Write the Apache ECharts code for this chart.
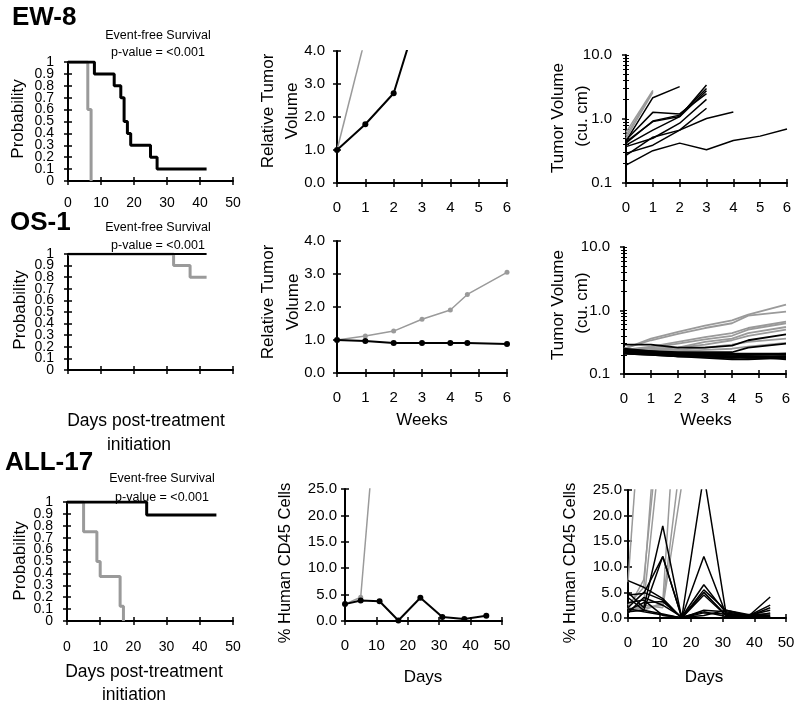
<!DOCTYPE html>
<html><head><meta charset="utf-8">
<script src="https://cdn.jsdelivr.net/npm/echarts@6/dist/echarts.min.js"></script>
<style>html,body{margin:0;padding:0;background:#fff}#c{width:800px;height:707px}</style>
</head><body><div id="c"></div>
<script>
// ================= DATA =================
// Kaplan-Meier (days, survival probability)
const ew8KmCtrlT = [0, 6, 7];
const ew8KmCtrlS = [1, 0.6, 0];
const ew8KmTrtT = [0, 8, 14, 16, 17, 18, 19, 25, 27, 42];
const ew8KmTrtS = [1, 0.9, 0.8, 0.7, 0.5, 0.4, 0.3, 0.2, 0.1, 0.1];
const os1KmCtrlT = [0, 32, 37, 42];
const os1KmCtrlS = [1, 0.9, 0.8, 0.8];
const os1KmTrtT = [0, 42];
const os1KmTrtS = [1, 1];
const all17KmCtrlT = [0, 5, 9, 10, 16, 17];
const all17KmCtrlS = [1, 0.75, 0.5, 0.375, 0.125, 0];
const all17KmTrtT = [0, 24, 45];
const all17KmTrtS = [1, 0.89, 0.89];

// EW-8 (weeks)
const ew8Weeks = [0, 1, 2, 3, 4, 5, 6];
const ew8RtvCtrl = [1, 4.4];
const ew8RtvTrt = [1, 1.78, 2.72, 5.5];
const ew8TvCtrl = [[0.62, 2.8], [0.55, 2.7], [0.5, 2.6]];
const ew8TvTrt = [
  [0.45, 2.15, 3.2],
  [0.47, 1.27, 1.2, 2.5],
  [0.44, 0.91, 1.09, 3.4],
  [0.42, 0.93, 1.15, 3.0],
  [0.39, 0.67, 1.09, 2.77],
  [0.37, 0.5, 0.86, 2.03],
  [0.29, 0.39, 0.67, 1.47],
  [0.27, 0.52, 0.67, 1.02, 1.29],
  [0.19, 0.32, 0.42, 0.33, 0.46, 0.54, 0.7]
];

// OS-1 (weeks)
const os1Weeks = [0, 1, 2, 3, 4, 4.6, 6];
const os1RtvCtrl = [1, 1.12, 1.27, 1.63, 1.91, 2.38, 3.05];
const os1RtvTrt = [1, 0.97, 0.91, 0.91, 0.91, 0.91, 0.88];
const os1TvCtrl = [
  [0.25, 0.36, 0.46, 0.58, 0.70, 0.86, 1.24],
  [0.25, 0.34, 0.43, 0.53, 0.63, 0.83, 0.96],
  [0.24, 0.27, 0.32, 0.38, 0.44, 0.53, 0.67],
  [0.24, 0.26, 0.30, 0.35, 0.40, 0.50, 0.63],
  [0.23, 0.25, 0.26, 0.32, 0.36, 0.44, 0.55],
  [0.24, 0.25, 0.26, 0.29, 0.34, 0.40, 0.50],
  [0.23, 0.24, 0.24, 0.26, 0.29, 0.32, 0.36],
  [0.22, 0.23, 0.23, 0.24, 0.25, 0.27, 0.31]
];
const os1TvTrt = [
  [0.29, 0.29, 0.26, 0.26, 0.28, 0.34, 0.42],
  [0.24, 0.23, 0.22, 0.22, 0.22, 0.26, 0.30],
  [0.25, 0.23, 0.21, 0.21, 0.21, 0.21, 0.21],
  [0.24, 0.22, 0.20, 0.20, 0.20, 0.20, 0.20],
  [0.23, 0.22, 0.20, 0.19, 0.19, 0.20, 0.21],
  [0.22, 0.21, 0.19, 0.19, 0.18, 0.19, 0.19],
  [0.22, 0.21, 0.20, 0.19, 0.19, 0.18, 0.18],
  [0.21, 0.20, 0.19, 0.18, 0.17, 0.17, 0.18],
  [0.23, 0.21, 0.20, 0.20, 0.19, 0.19, 0.17],
  [0.21, 0.20, 0.19, 0.19, 0.18, 0.18, 0.19]
];

// ALL-17 (days, % human CD45)
const all17Days = [0, 5, 11, 17, 24, 31, 38, 45];
const all17MeanCtrl = [3.2, 4.5, 47];
const all17MeanTrt = [3.2, 3.9, 3.75, 0.1, 4.4, 0.75, 0.4, 1.0];
const all17IndCtrl = [
  [7, 50],
  [2.5, 6, 55],
  [1.8, 7.5, 45],
  [1.0, 3.0, 38],
  [2.0, 1.5, 3.0, 60],
  [1.5, 2.0, 2.5, 33],
  [1.2, 2.5, 2.0, 26]
];
const all17IndTrt = [
  [7.3, 6.0, 3.8, 0, 1.5, 1.2, 0.5, 0.3],
  [5.0, 2.0, 18, 0, 28, 1.0, 0.3, 4.1],
  [4.5, 4.8, 12, 0.1, 12, 0.8, 0.4, 2.5],
  [4.0, 1.5, 12, 0.2, 6.5, 1.0, 0.3, 2.0],
  [2.0, 5.0, 3.5, 0, 5.5, 1.5, 0.5, 1.5],
  [1.5, 3.0, 3.2, 0.1, 5.0, 0.6, 0.2, 1.0],
  [1.2, 1.5, 0.8, 0, 4.5, 0.5, 0.6, 0.5],
  [1.0, 4.0, 2.5, 0.2, 1.2, 0.3, 0.3, 0.2],
  [1.8, 1.2, 0.6, 0, 1.0, 0.8, 0.2, 0.1],
  [3.0, 3.5, 0.5, 0.1, 0.5, 1.5, 0.7, 0.8]
];

// Tick values
const kmLabelsEven = [0, 0.2, 0.4, 0.6, 0.8, 1];
const kmLabelsOdd = [0.1, 0.3, 0.5, 0.7, 0.9];
const logAllTicks = [0.1, 0.2, 0.3, 0.4, 0.5, 0.6, 0.7, 0.8, 0.9, 1, 2, 3, 4, 5, 6, 7, 8, 9, 10];
const logMinorTicks = [0.2, 0.3, 0.4, 0.5, 0.6, 0.7, 0.8, 0.9, 2, 3, 4, 5, 6, 7, 8, 9];

// ================= BUILD =================
const FONT = "'Liberation Sans', Arial, sans-serif";
const BLACK = '#000000';
const GRAY = '#9a9a9a';
const grids = [], xAxes = [], yAxes = [], series = [], graphics = [];

function scaleOf(c) {
  const o = {type: c.type || 'value', min: c.min, max: c.max, splitLine: {show: false}};
  if (o.type === 'value') o.interval = c.interval; else o.logBase = 10;
  return o;
}

function addGrid(p) {
  grids.push({left: p.left, top: p.top, width: p.width, height: p.height, outerBoundsMode: 'none'});
  return grids.length - 1;
}

function yLabelStyle(p) {
  return {margin: p.y.margin, fontSize: p.y.fs, color: BLACK, fontFamily: FONT, formatter: p.y.fmt, hideOverlap: false};
}

function panel(p) {
  // main grid: axis lines, outward ticks, labels
  const gA = addGrid(p);
  const xi = xAxes.length, yi = yAxes.length;
  xAxes.push(Object.assign(scaleOf(p.x), {
    gridIndex: gA, position: 'bottom',
    axisLine: {show: true, onZero: false, lineStyle: {color: BLACK, width: 2}},
    axisTick: {show: true, length: 4, lineStyle: {color: BLACK, width: 1.5}},
    axisLabel: {show: p.x.labels !== false, margin: p.x.margin, fontSize: p.x.fs, color: BLACK, fontFamily: FONT,
      showMinLabel: true, showMaxLabel: true}
  }));
  const yLabA = Object.assign(yLabelStyle(p), {showMinLabel: true, showMaxLabel: true});
  if (p.y.labelsA) yLabA.customValues = p.y.labelsA;
  yAxes.push(Object.assign(scaleOf(p.y), {
    gridIndex: gA, position: 'left',
    axisLine: {show: true, onZero: false, lineStyle: {color: BLACK, width: 2}},
    axisTick: {show: true, length: 4, lineStyle: {color: BLACK, width: 1.5}},
    axisLabel: yLabA
  }));
  // overlay grid: inward ticks (so ticks cross the axis line), plus the second half of dense labels
  const gB = addGrid(p);
  xAxes.push(Object.assign(scaleOf(p.x), {
    gridIndex: gB, position: 'bottom',
    axisLine: {show: false, onZero: false},
    axisTick: {show: true, inside: true, length: 4, lineStyle: {color: BLACK, width: 1.5}},
    axisLabel: {show: false}
  }));
  const yIn = Object.assign(scaleOf(p.y), {
    gridIndex: gB, position: 'left',
    axisLine: {show: false, onZero: false},
    axisTick: {show: true, inside: true, length: 4, lineStyle: {color: BLACK, width: 1.5}},
    axisLabel: p.y.labelsB ? Object.assign(yLabelStyle(p), {customValues: p.y.labelsB}) : {show: false}
  });
  if (p.y.type === 'log') { yIn.axisTick.customValues = logAllTicks; yIn.axisTick.length = 3; yIn.axisTick.lineStyle.width = 1; }
  yAxes.push(yIn);
  if (p.y.type === 'log') {
    // minor ticks outward
    const gC = addGrid(p);
    xAxes.push(Object.assign(scaleOf(p.x), {gridIndex: gC, show: false}));
    yAxes.push(Object.assign(scaleOf(p.y), {
      gridIndex: gC, position: 'left',
      axisLine: {show: false, onZero: false},
      axisTick: {show: true, customValues: logMinorTicks, length: 3, lineStyle: {color: BLACK, width: 1}},
      axisLabel: {show: false}
    }));
  }
  return {xi, yi};
}

function line(ax, xs, ys, color, width, opt) {
  opt = opt || {};
  series.push({
    type: 'line', xAxisIndex: ax.xi, yAxisIndex: ax.yi,
    data: ys.map((v, i) => [xs[i], v]),
    step: opt.step || false,
    showSymbol: !!opt.symbol, symbol: 'circle', symbolSize: opt.symbol || 0,
    itemStyle: {color: color},
    lineStyle: {color: color, width: width},
    clip: true, silent: true, animation: false, z: opt.z || 2
  });
}

function text(str, x, y, size, opt) {
  opt = opt || {};
  graphics.push({
    type: 'text', x: x, y: y, rotation: opt.rot ? Math.PI / 2 : 0, silent: true,
    style: {
      text: str, fill: BLACK,
      font: (opt.bold ? 'bold ' : '') + size + 'px ' + FONT,
      align: opt.align || 'center', verticalAlign: 'middle',
      textAlign: opt.align || 'center', textVerticalAlign: 'middle'
    }
  });
}

const f1 = v => Number(v).toFixed(1);
const kmY = {type: 'value', min: 0, max: 1, interval: 0.1, fs: 14, margin: 14, labelsA: kmLabelsEven, labelsB: kmLabelsOdd};

// Row 1: EW-8
const p0 = panel({left: 68, top: 62, width: 165, height: 119, x: {min: 0, max: 50, interval: 10, fs: 14, margin: 15}, y: kmY});
line(p0, ew8KmCtrlT, ew8KmCtrlS, GRAY, 3, {step: 'end'});
line(p0, ew8KmTrtT, ew8KmTrtS, BLACK, 3, {step: 'end', z: 3});

const p1 = panel({left: 337, top: 51, width: 170, height: 132, x: {min: 0, max: 6, interval: 1, fs: 15, margin: 17}, y: {type: 'value', min: 0, max: 4, interval: 1, fs: 15, margin: 12, fmt: f1}});
line(p1, ew8Weeks, ew8RtvCtrl, GRAY, 1.5, {symbol: 5});
line(p1, ew8Weeks, ew8RtvTrt, BLACK, 2, {symbol: 6, z: 3});

const p2 = panel({left: 626, top: 55, width: 161, height: 128, x: {min: 0, max: 6, interval: 1, fs: 15, margin: 17}, y: {type: 'log', min: 0.1, max: 10, fs: 15, margin: 14, fmt: f1}});
ew8TvTrt.forEach(d => line(p2, ew8Weeks, d, BLACK, 1.5));
ew8TvCtrl.forEach(d => line(p2, ew8Weeks, d, GRAY, 1.5, {z: 3}));

// Row 2: OS-1
const p3 = panel({left: 68, top: 254, width: 165, height: 116, x: {min: 0, max: 50, interval: 10, fs: 14, margin: 15, labels: false}, y: kmY});
line(p3, os1KmCtrlT, os1KmCtrlS, GRAY, 3, {step: 'end'});
line(p3, os1KmTrtT, os1KmTrtS, BLACK, 2, {step: 'end', z: 3});

const p4 = panel({left: 337, top: 241, width: 170, height: 132, x: {min: 0, max: 6, interval: 1, fs: 15, margin: 17}, y: {type: 'value', min: 0, max: 4, interval: 1, fs: 15, margin: 12, fmt: f1}});
line(p4, os1Weeks, os1RtvCtrl, GRAY, 1.5, {symbol: 5});
line(p4, os1Weeks, os1RtvTrt, BLACK, 2, {symbol: 6, z: 3});

const p5 = panel({left: 624, top: 247, width: 162, height: 127, x: {min: 0, max: 6, interval: 1, fs: 15, margin: 17}, y: {type: 'log', min: 0.1, max: 10, fs: 15, margin: 14, fmt: f1}});
os1TvCtrl.forEach(d => line(p5, os1Weeks, d, GRAY, 1.8));
os1TvTrt.forEach(d => line(p5, os1Weeks, d, BLACK, 1.8, {z: 3}));

// Row 3: ALL-17
const p6 = panel({left: 67, top: 502, width: 166, height: 119, x: {min: 0, max: 50, interval: 10, fs: 14, margin: 19}, y: kmY});
line(p6, all17KmCtrlT, all17KmCtrlS, GRAY, 3, {step: 'end'});
line(p6, all17KmTrtT, all17KmTrtS, BLACK, 3, {step: 'end', z: 3});

const p7 = panel({left: 345, top: 489, width: 157, height: 132, x: {min: 0, max: 50, interval: 10, fs: 15, margin: 17}, y: {type: 'value', min: 0, max: 25, interval: 5, fs: 15, margin: 8, fmt: f1}});
line(p7, all17Days, all17MeanCtrl, GRAY, 1.5, {symbol: 5});
line(p7, all17Days, all17MeanTrt, BLACK, 2, {symbol: 6, z: 3});

const p8 = panel({left: 628, top: 490, width: 158, height: 128, x: {min: 0, max: 50, interval: 10, fs: 15, margin: 17}, y: {type: 'value', min: 0, max: 25, interval: 5, fs: 15, margin: 6, fmt: f1}});
all17IndCtrl.forEach(d => line(p8, all17Days, d, GRAY, 1.5));
all17IndTrt.forEach(d => line(p8, all17Days, d, BLACK, 1.5, {z: 3}));

// Texts
text('EW-8', 12, 18, 26, {bold: true, align: 'left'});
text('OS-1', 10, 223, 26, {bold: true, align: 'left'});
text('ALL-17', 5, 463, 26, {bold: true, align: 'left'});
[[158, 36, 53], [158, 228, 246], [162, 479, 498]].forEach(r => {
  text('Event-free Survival', r[0], r[1], 12.5);
  text('p-value = <0.001', r[0], r[2], 12.5);
});
text('Probability', 18, 119, 17, {rot: true});
text('Probability', 20, 310, 17, {rot: true});
text('Probability', 20, 561, 17, {rot: true});
text('Relative Tumor', 268, 111, 17, {rot: true});
text('Volume', 292, 111, 17, {rot: true});
text('Relative Tumor', 268, 302, 17, {rot: true});
text('Volume', 293, 302, 17, {rot: true});
text('Tumor Volume', 558, 118, 17, {rot: true});
text('(cu. cm)', 582, 116, 17, {rot: true});
text('Tumor Volume', 558, 305, 17, {rot: true});
text('(cu. cm)', 582, 303, 17, {rot: true});
text('% Human CD45 Cells', 285, 563, 16.5, {rot: true});
text('% Human CD45 Cells', 570, 563, 16.5, {rot: true});
text('Days post-treatment', 146, 421, 17.5);
text('initiation', 139, 445, 17.5);
text('Days post-treatment', 144, 672, 17.5);
text('initiation', 134, 695, 17.5);
text('Weeks', 422, 420, 17);
text('Weeks', 706, 420, 17);
text('Days', 423, 677, 17);
text('Days', 704, 677, 17);

const chart = echarts.init(document.getElementById('c'), null, {renderer: 'canvas'});
chart.setOption({
  animation: false,
  backgroundColor: '#ffffff',
  grid: grids, xAxis: xAxes, yAxis: yAxes, series: series,
  graphic: {elements: graphics}
});
</script></body></html>
